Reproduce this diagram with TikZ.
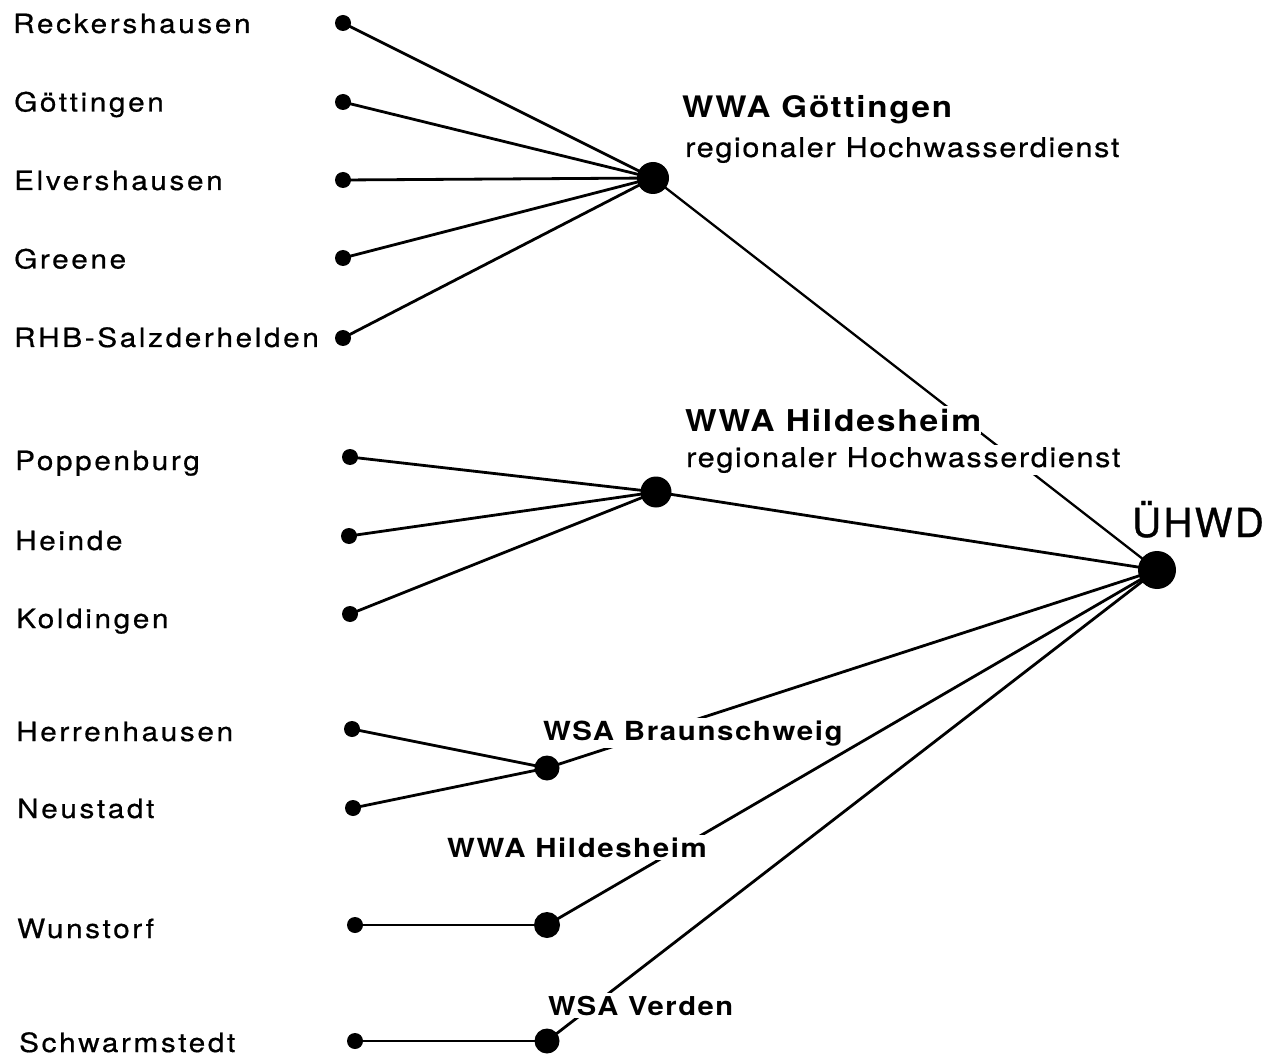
\documentclass[tikz,border=0pt]{standalone}
\usepackage{fontspec}
\setmainfont{TeX Gyre Heros}
\newfontfamily\placefont[FakeStretch=1.12,LetterSpace=10,FakeBold=0.6]{TeX Gyre Heros}
\newfontfamily\officefont[FakeStretch=1.12,LetterSpace=6]{TeX Gyre Heros}
\newfontfamily\servicefont[FakeStretch=1.12,LetterSpace=6,FakeBold=0.6]{TeX Gyre Heros}
\newfontfamily\centrefont[LetterSpace=6,FakeBold=0.8]{TeX Gyre Heros}
\pgfdeclarelayer{paper}
\pgfdeclarelayer{wires}
\pgfsetlayers{paper,wires,main}
\tikzset{
  gauge/.style={circle, fill=black, inner sep=0pt, minimum size=16pt},
  hub/.style={circle, fill=black, inner sep=0pt, minimum size=#1},
  wire/.style={line width=2.8pt, line cap=round},
  longwire/.style={line width=2.3pt, line cap=round},
  place/.style={anchor=base west, inner sep=0pt,
    font=\placefont\fontsize{26.5pt}{30pt}\selectfont},
  office/.style={anchor=base west, inner xsep=0pt, inner ysep=2.5pt, fill=white,
    font=\officefont\bfseries\fontsize{#1}{34pt}\selectfont},
  service/.style={anchor=base west, inner xsep=0pt, inner ysep=2.5pt, fill=white,
    font=\servicefont\fontsize{27.3pt}{31pt}\selectfont},
  centre/.style={anchor=base west, inner sep=0pt,
    font=\centrefont\fontsize{40pt}{44pt}\selectfont}
}
\begin{document}
\begin{tikzpicture}[x=1pt,y=-1pt]
\begin{pgfonlayer}{paper}
  \fill[white] (0,0) rectangle (1280,1059);
\end{pgfonlayer}
\useasboundingbox (0,0) rectangle (1280,1059);

% gauging stations
\node[gauge] (s1)  at (343,23)   {};
\node[gauge] (s2)  at (343,102)  {};
\node[gauge] (s3)  at (343,180)  {};
\node[gauge] (s4)  at (343,258)  {};
\node[gauge] (s5)  at (343,338)  {};
\node[gauge] (s6)  at (350,457)  {};
\node[gauge] (s7)  at (349,536)  {};
\node[gauge] (s8)  at (350,614)  {};
\node[gauge] (s9)  at (352,729)  {};
\node[gauge] (s10) at (353,808)  {};
\node[gauge] (s11) at (355,925)  {};
\node[gauge] (s12) at (355,1041) {};

% collecting offices and central service
\node[hub=32pt] (goe) at (653,178)  {};
\node[hub=31pt] (hil) at (656,492)  {};
\node[hub=38pt] (uhw) at (1157,570) {};
\node[hub=25pt] (bra) at (547,768)  {};
\node[hub=26pt] (hi2) at (547,925)  {};
\node[hub=25pt] (ver) at (547,1041) {};

% station names
\node[place] (n1)  at (13,33)    {Reckershausen};
\node[place] (n2)  at (14,111.5) {Göttingen};
\node[place] (n3)  at (14,190)   {Elvershausen};
\node[place] (n4)  at (14,268.5) {Greene};
\node[place] (n5)  at (14,347)   {RHB-Salzderhelden};
\node[place] (n6)  at (15,470)   {Poppenburg};
\node[place] (n7)  at (15,550)   {Heinde};
\node[place] (n8)  at (16,628)   {Koldingen};
\node[place] (n9)  at (16,741)   {Herrenhausen};
\node[place] (n10) at (17,818)   {Neustadt};
\node[place] (n11) at (17,938)   {Wunstorf};
\node[place] (n12) at (19,1052)  {Schwarmstedt};

% office names (white ground interrupts the wires behind them)
\node[office=29.6pt] (lgoe)  at (682,118) {WWA Göttingen};
\node[service]       (lgoe2) at (685,157) {regionaler Hochwasserdienst};
\node[office=30pt]   (lhil)  at (685,431) {WWA Hildesheim};
\node[service]       (lhil2) at (686,467) {regionaler Hochwasserdienst};
\node[centre]        (luhw)  at (1132,537) {ÜHWD};
\node[office=26.3pt] (lbra)  at (543,740) {WSA Braunschweig};
\node[office=26.3pt] (lhi2)  at (447,857) {WWA Hildesheim};
\node[office=26pt]   (lver)  at (548,1015) {WSA Verden};

\begin{pgfonlayer}{wires}
  \foreach \s in {s1,s2,s3,s4,s5}
    \draw[wire] (\s.center) -- (goe.center);
  \foreach \s in {s6,s7,s8}
    \draw[wire] (\s.center) -- (hil.center);
  \foreach \s in {s9,s10}
    \draw[wire] (\s.center) -- (bra.center);
  \draw[wire] (s11.center) -- (hi2.center);
  \draw[wire] (s12.center) -- (ver.center);
  \draw[longwire] (goe.center) -- (uhw.center);
  \foreach \h in {hil,bra,hi2,ver}
    \draw[wire] (\h.center) -- (uhw.center);
\end{pgfonlayer}
\end{tikzpicture}
\end{document}
